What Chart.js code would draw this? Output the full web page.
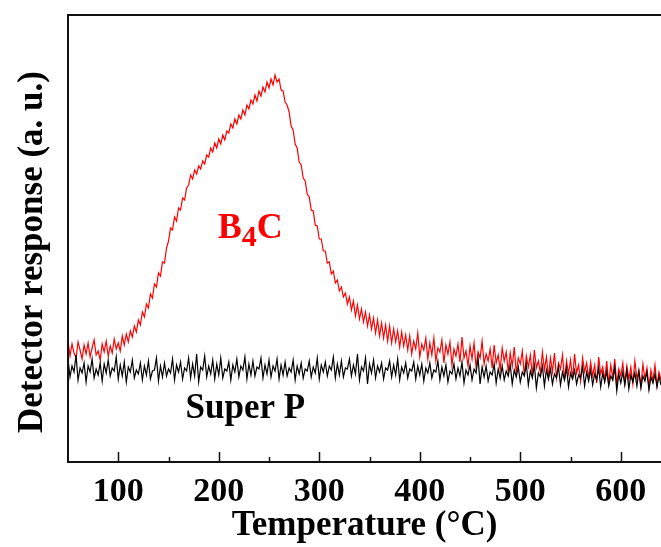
<!DOCTYPE html>
<html><head><meta charset="utf-8">
<script src="https://cdn.jsdelivr.net/npm/chart.js@4.4.1/dist/chart.umd.min.js"></script>
<style>html,body{margin:0;padding:0;background:#fff;overflow:hidden}#wrap{width:661px;height:547px;position:relative}</style>
</head><body><div id="wrap"><canvas id="c" width="661" height="547"></canvas></div>
<script>
const temperatures = [50,52,54,56,58,60,62,64,66,68,70,72,74,76,78,80,82,84,86,88,90,92,94,96,98,100,102,104,106,108,110,112,114,116,118,120,122,124,126,128,130,132,134,136,138,140,142,144,146,148,150,152,154,156,158,160,162,164,166,168,170,172,174,176,178,180,182,184,186,188,190,192,194,196,198,200,202,204,206,208,210,212,214,216,218,220,222,224,226,228,230,232,234,236,238,240,242,244,246,248,250,252,254,256,258,260,262,264,266,268,270,272,274,276,278,280,282,284,286,288,290,292,294,296,298,300,302,304,306,308,310,312,314,316,318,320,322,324,326,328,330,332,334,336,338,340,342,344,346,348,350,352,354,356,358,360,362,364,366,368,370,372,374,376,378,380,382,384,386,388,390,392,394,396,398,400,402,404,406,408,410,412,414,416,418,420,422,424,426,428,430,432,434,436,438,440,442,444,446,448,450,452,454,456,458,460,462,464,466,468,470,472,474,476,478,480,482,484,486,488,490,492,494,496,498,500,502,504,506,508,510,512,514,516,518,520,522,524,526,528,530,532,534,536,538,540,542,544,546,548,550,552,554,556,558,560,562,564,566,568,570,572,574,576,578,580,582,584,586,588,590,592,594,596,598,600,602,604,606,608,610,612,614,616,618,620,622,624,626,628,630,632,634,636,638,640];
const b4cSignal = [
121,106,118,109,104,120,112,103,117,108,
119,105,114,122,107,111,102,118,110,121,
106,116,109,123,113,119,111,126,117,128,
120,131,125,136,130,142,137,150,145,158,
154,168,164,178,175,189,186,200,199,214,
221,234,232,245,241,254,252,264,262,274,
277,287,283,292,288,296,293,301,298,307,
305,314,310,319,314,323,318,327,322,331,
329,338,334,343,338,347,343,352,347,357,
353,362,358,367,361,371,366,375,370,380,
374,383,377,387,380,383,372,371,360,357,
350,336,332,318,314,300,297,284,281,268,
265,252,251,237,236,223,223,211,211,199,
200,188,191,179,182,171,175,165,169,158,
165,152,161,146,157,143,153,140,150,136,
147,133,144,129,142,126,139,124,137,121,
136,119,133,120,131,115,130,116,127,112,
126,108,121,113,129,105,118,112,124,103,
119,107,124,101,114,110,122,99,117,108,
120,97,113,106,118,100,125,104,111,96,
116,103,119,95,110,104,121,98,108,101,
113,94,117,99,107,92,114,101,110,90,
109,96,115,89,104,98,111,87,106,95,
107,86,112,94,101,89,110,92,105,85,
104,90,109,84,99,93,107,82,101,88,
102,83,108,89,97,81,104,90,99,84,
100,86,97,79,105,88,95,82,101,78,
97,84,103,77,93,86,99,79,96,83,
95,78,101,84,91,76,98,83,94,75,
92,81,97,76,90,82];
const superPSignal = [
103,85,96,90,107,82,94,89,99,80,
96,90,103,84,93,87,99,81,98,89,
102,86,94,91,105,83,97,86,100,80,
95,90,102,84,92,88,99,82,96,87,
101,83,91,92,104,81,96,85,99,86,
93,89,103,82,97,90,100,83,94,91,
104,84,98,86,108,80,95,92,106,85,
96,88,102,83,98,87,104,84,93,91,
100,82,97,90,103,85,96,92,105,83,
98,87,101,86,95,93,104,84,97,88,
102,85,96,91,103,83,97,87,100,86,
94,90,102,82,96,88,99,84,93,91,
101,85,95,89,104,83,97,90,100,86,
96,92,105,84,98,87,101,85,94,93,
103,86,97,88,108,82,95,91,104,78,
98,89,102,84,96,90,99,83,94,92,
101,85,97,87,103,82,95,89,99,84,
93,91,100,83,96,87,98,81,94,89,
99,84,92,90,101,82,95,86,97,80,
91,88,98,83,94,86,100,79,92,87,
97,82,93,89,104,78,95,85,96,81,
90,87,98,79,93,84,96,82,91,86,
97,78,92,85,95,80,90,86,98,77,
91,84,97,74,89,85,96,76,92,83,
93,78,88,84,95,77,90,82,94,75,
89,83,92,78,87,84,95,76,90,81,
92,77,88,82,94,75,89,80,91,76,
86,82,95,71,88,79,90,77,92,73,
87,80,89,76,91,74,86,81,90,72,
85,79,88,75,86,77];
const xTickValues = [100,200,300,400,500,600];
const xMinorTickValues = [150,250,350,450,550];
const seriesNames = ['Super P','B4C'];
const xAxisTitle = 'Temperature (\u00B0C)';
const yAxisTitle = 'Detector response (a. u.)';

const FONT = "'Liberation Serif','Times New Roman',serif";

const framePlugin = {
  id: 'frame',
  afterDatasetsDraw(chart) {
    const {ctx, chartArea: a, scales: {x, y}} = chart;
    ctx.save();
    ctx.strokeStyle = '#111';
    ctx.lineWidth = 2;
    ctx.beginPath();
    ctx.moveTo(a.right + 5, a.top);
    ctx.lineTo(a.left, a.top);
    ctx.lineTo(a.left, a.bottom);
    ctx.lineTo(a.right + 5, a.bottom);
    ctx.stroke();
    ctx.lineWidth = 1.5;
    ctx.beginPath();
    xTickValues.forEach(v => { const p = Math.round(x.getPixelForValue(v)) + 0.5; ctx.moveTo(p, a.bottom); ctx.lineTo(p, a.bottom - 10); });
    xMinorTickValues.forEach(v => { const p = Math.round(x.getPixelForValue(v)) + 0.5; ctx.moveTo(p, a.bottom); ctx.lineTo(p, a.bottom - 5); });
    ctx.stroke();

    ctx.textBaseline = 'alphabetic';
    ctx.textAlign = 'left';
    ctx.fillStyle = '#ff0000';
    let px = x.getPixelForValue(199), py = y.getPixelForValue(224);
    ctx.font = 'bold 36px ' + FONT;
    ctx.fillText('B', px, py); px += ctx.measureText('B').width;
    ctx.font = 'bold 30px ' + FONT;
    ctx.fillText('4', px, py + 8); px += ctx.measureText('4').width;
    ctx.font = 'bold 36px ' + FONT;
    ctx.fillText('C', px, py);

    ctx.fillStyle = '#000';
    ctx.font = 'bold 35px ' + FONT;
    ctx.fillText(seriesNames[0], x.getPixelForValue(167), y.getPixelForValue(44));

    ctx.translate(33, 252);
    ctx.rotate(-Math.PI / 2);
    ctx.textAlign = 'center';
    ctx.textBaseline = 'middle';
    ctx.font = 'bold 35px ' + FONT;
    ctx.fillText(yAxisTitle, 0, 0);
    ctx.restore();
  }
};

new Chart(document.getElementById('c'), {
  type: 'scatter',
  data: {
    datasets: [
      { label: seriesNames[0], data: temperatures.map((t, i) => ({x: t, y: superPSignal[i]})), borderColor: '#000', borderWidth: 1.2, showLine: true, pointRadius: 0, tension: 0 },
      { label: seriesNames[1], data: temperatures.map((t, i) => ({x: t, y: b4cSignal[i]})), borderColor: '#ff0000', borderWidth: 1.2, showLine: true, pointRadius: 0, tension: 0 }
    ]
  },
  options: {
    responsive: false,
    devicePixelRatio: 1,
    animation: false,
    layout: { padding: { top: 15, left: 0, right: 0, bottom: 0 } },
    plugins: { legend: { display: false }, tooltip: { enabled: false } },
    scales: {
      x: {
        type: 'linear', position: 'bottom', min: 50, max: 640,
        afterBuildTicks: s => { s.ticks = xTickValues.map(v => ({value: v})); },
        afterFit: s => { s.height = 85; },
        grid: { display: false, drawTicks: false },
        border: { display: false },
        ticks: { color: '#000', font: { family: FONT, size: 34, weight: 'bold' }, padding: 10, maxRotation: 0 },
        title: { display: true, text: xAxisTitle, color: '#000', font: { family: FONT, size: 35, weight: 'bold' }, padding: { top: 0, bottom: 0 } }
      },
      y: {
        type: 'linear', min: 0, max: 447,
        afterFit: s => { s.width = 68; },
        grid: { display: false, drawTicks: false },
        border: { display: false },
        ticks: { display: false },
        title: { display: false }
      }
    }
  },
  plugins: [framePlugin]
});
</script>
</body></html>
